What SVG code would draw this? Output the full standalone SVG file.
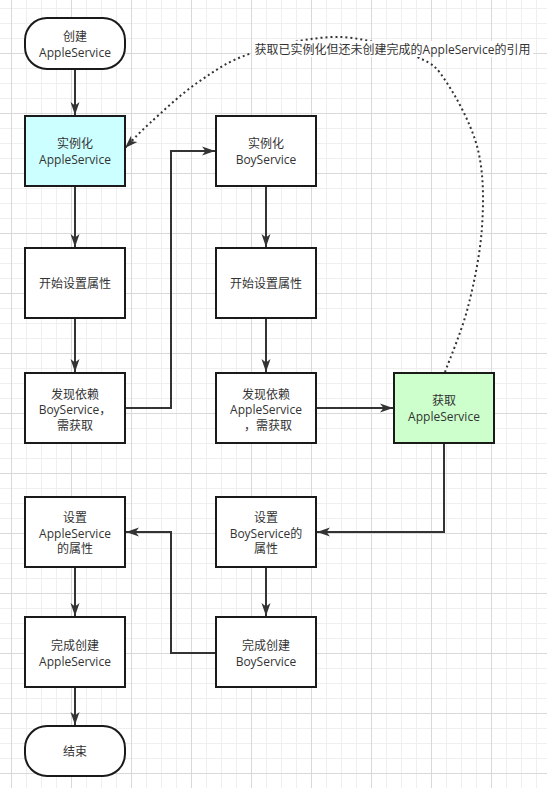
<svg xmlns="http://www.w3.org/2000/svg" width="547" height="788" viewBox="0 0 547 788">
<defs>
<pattern id="grid" patternUnits="userSpaceOnUse" x="11" y="53" width="60" height="60">
<path d="M15.5 0V60M30.5 0V60M45.5 0V60M0 15.5H60M0 30.5H60M0 45.5H60" stroke="#efefef" stroke-width="1" fill="none"/>
<path d="M0.5 0V60M0 0.5H60" stroke="#d9d9d9" stroke-width="1" fill="none"/>
</pattern>
<marker id="arr" markerUnits="userSpaceOnUse" markerWidth="14" markerHeight="10" viewBox="0 0 14 10" refX="13" refY="5" orient="auto">
<path d="M0,0.5 L13,5 L0,9.5 L3.5,5 Z" fill="#333"/>
</marker>
</defs>
<style>
.box{stroke:#1a1a1a;stroke-width:2;fill:#fff}
.t{font-family:"Open Sans","Noto Sans CJK SC",sans-serif;font-size:12px;fill:#333;text-anchor:middle;dominant-baseline:central}
.e{fill:none;stroke:#333;stroke-width:2;marker-end:url(#arr)}
.d{fill:none;stroke:#333;stroke-width:2;stroke-dasharray:2 3}
</style>
<rect width="547" height="788" fill="#fff"/>
<rect width="547" height="788" fill="url(#grid)"/>

<g id="connectors">
<path class="e" d="M75 69V115"/>
<path class="e" d="M75 186V247"/>
<path class="e" d="M75 318V372"/>
<path class="e" d="M125 408H171V151H215"/>
<path class="e" d="M266 186V247"/>
<path class="e" d="M266 318V372"/>
<path class="e" d="M316 408H393"/>
<path class="e" d="M444 443V532H317"/>
<path class="e" d="M266 567V616"/>
<path class="e" d="M216 653H171V532H126"/>
<path class="e" d="M75 567V616"/>
<path class="e" d="M75 687V725"/>
<path class="d" style="marker-end:url(#arr)" d="M445 372C448.8 361.2 461.8 331.2 468 307C474.2 282.8 480.3 253.2 482 227C483.7 200.8 483.8 174 478 150C472.2 126 457.2 98.5 447 83C436.8 67.5 434.8 64.7 417 57C399.2 49.3 367.5 37.7 340 37C312.5 36.3 275.8 45.3 252 53C228.2 60.7 214 71.3 197 83C180 94.7 162 112.2 150 123C138 133.8 129.2 143.8 125 148"/>
<rect x="252" y="41" width="281" height="16" fill="#fff"/>
<text class="t" x="392.5" y="49">获取已实例化但还未创建完成的AppleService的引用</text>
</g>

<g id="start">
<rect class="box" x="25" y="18" width="100" height="51" rx="22" ry="22"/>
<text class="t" y="36"><tspan x="75">创建</tspan><tspan x="75" dy="16">AppleService</tspan></text>
</g>
<g id="instApple">
<rect class="box" x="25" y="116" width="100" height="70" style="fill:#ccffff"/>
<text class="t" y="143"><tspan x="75">实例化</tspan><tspan x="75" dy="16">AppleService</tspan></text>
</g>
<g id="setApple0">
<rect class="box" x="25" y="248" width="100" height="70"/>
<text class="t" x="75" y="283">开始设置属性</text>
</g>
<g id="findBoy">
<rect class="box" x="25" y="373" width="100" height="70"/>
<text class="t" y="393.5"><tspan x="75">发现依赖</tspan><tspan x="75" dy="15.5">BoyService，</tspan><tspan x="75" dy="15.5">需获取</tspan></text>
</g>
<g id="setAppleProps">
<rect class="box" x="25" y="497" width="100" height="70"/>
<text class="t" y="517"><tspan x="75">设置</tspan><tspan x="75" dy="15.5">AppleService</tspan><tspan x="75" dy="15.5">的属性</tspan></text>
</g>
<g id="doneApple">
<rect class="box" x="25" y="617" width="100" height="70"/>
<text class="t" y="645"><tspan x="75">完成创建</tspan><tspan x="75" dy="15.5">AppleService</tspan></text>
</g>
<g id="end">
<rect class="box" x="25" y="726" width="100" height="50" rx="22" ry="22"/>
<text class="t" x="75" y="751">结束</text>
</g>
<g id="instBoy">
<rect class="box" x="216" y="116" width="100" height="70"/>
<text class="t" y="143"><tspan x="266">实例化</tspan><tspan x="266" dy="16">BoyService</tspan></text>
</g>
<g id="setBoy0">
<rect class="box" x="216" y="248" width="100" height="70"/>
<text class="t" x="266" y="283">开始设置属性</text>
</g>
<g id="findApple">
<rect class="box" x="216" y="373" width="100" height="70"/>
<text class="t" y="393.5"><tspan x="266">发现依赖</tspan><tspan x="266" dy="15.5">AppleService</tspan><tspan x="268" dy="15.5">，需获取</tspan></text>
</g>
<g id="setBoyProps">
<rect class="box" x="216" y="497" width="100" height="70"/>
<text class="t" y="517"><tspan x="266">设置</tspan><tspan x="266" dy="15.5">BoyService的</tspan><tspan x="266" dy="15.5">属性</tspan></text>
</g>
<g id="doneBoy">
<rect class="box" x="216" y="617" width="100" height="70"/>
<text class="t" y="645"><tspan x="266">完成创建</tspan><tspan x="266" dy="15.5">BoyService</tspan></text>
</g>
<g id="getApple">
<rect class="box" x="394" y="373" width="100" height="70" style="fill:#ccffcc"/>
<text class="t" y="400"><tspan x="444">获取</tspan><tspan x="444" dy="16">AppleService</tspan></text>
</g>
</svg>
